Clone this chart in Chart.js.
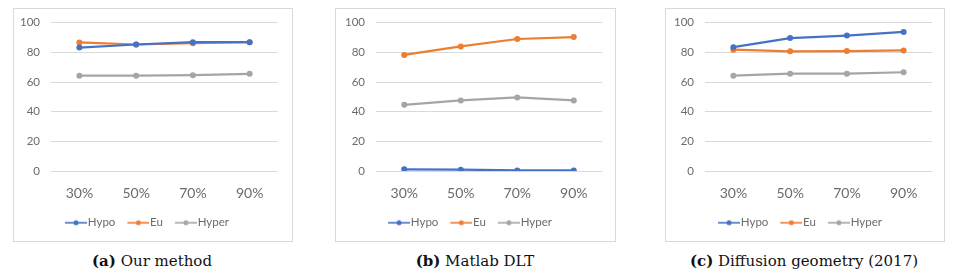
<!DOCTYPE html>
<html>
<head>
<meta charset="utf-8">
<script src="https://cdn.jsdelivr.net/npm/chart.js@4"></script>
<style>
  body { margin: 0; background: #fff; width: 956px; height: 280px; position: relative; overflow: hidden; }
  .panel { position: absolute; top: 8px; height: 234px; box-sizing: border-box; border: 1px solid #d9d9d9; }
  .panel canvas { display: block; }
  .cap { position: absolute; top: 252px; font-family: 'DejaVu Serif', serif; font-size: 15px; color: #111; white-space: nowrap; transform: translateX(-50%); }
  .cap b { font-weight: bold; }
</style>
</head>
<body>
<div class="panel" style="left:13px;width:280px"><canvas id="chartA" width="278" height="232"></canvas></div>
<div class="panel" style="left:335px;width:281px"><canvas id="chartB" width="279" height="232"></canvas></div>
<div class="panel" style="left:665px;width:280px"><canvas id="chartC" width="278" height="232"></canvas></div>
<div class="cap" style="left:152px"><b>(a)</b> Our method</div>
<div class="cap" style="left:475px"><b>(b)</b> Matlab DLT</div>
<div class="cap" style="left:804px"><b>(c)</b> Diffusion geometry (2017)</div>
<script>
// DATA
const categories = ['30%', '50%', '70%', '90%'];
const seriesNames = ['Hypo', 'Eu', 'Hyper'];
const yTickValues = [0, 20, 40, 60, 80, 100];

// (a) Our method
const oursHypo = [83.2, 85.3, 86.9, 86.9];
const oursEu = [86.7, 85.3, 86.2, 86.9];
const oursHyper = [64.3, 64.3, 64.6, 65.5];

// (b) Matlab DLT
const dltHypo = [1.1, 0.9, 0.4, 0.4];
const dltEu = [78.3, 84.0, 89.0, 90.3];
const dltHyper = [44.6, 47.6, 49.6, 47.6];

// (c) Diffusion geometry
const diffHypo = [83.5, 89.6, 91.3, 93.8];
const diffEu = [81.8, 80.7, 80.9, 81.3];
const diffHyper = [64.3, 65.6, 65.6, 66.6];

const colors = ['#4472c4', '#ed7d31', '#a5a5a5'];
const labelColor = '#6b6b6b';
const gridColor = '#d9d9d9';

// legend icon: line with a dot, shifted right so it touches the text
const makeIcon = function (color) {
  const c = document.createElement('canvas');
  c.width = 29;
  c.height = 8;
  const g = c.getContext('2d');
  g.strokeStyle = color;
  g.lineWidth = 1.6;
  g.beginPath();
  g.moveTo(7, 4);
  g.lineTo(29, 4);
  g.stroke();
  g.fillStyle = color;
  g.beginPath();
  g.arc(18, 4, 2.5, 0, Math.PI * 2);
  g.fill();
  return c;
};
const icons = colors.map(makeIcon);

const buildChart = function (id, series, yWidth, rightPad) {
  const ctx = document.getElementById(id).getContext('2d');
  return new Chart(ctx, {
    type: 'line',
    data: {
      labels: categories,
      datasets: series.map(function (values, i) {
        return {
          label: seriesNames[i],
          data: values,
          borderColor: colors[i],
          backgroundColor: colors[i],
          borderWidth: 2.2,
          pointRadius: 3,
          pointBorderWidth: 0,
          tension: 0,
        };
      }),
    },
    options: {
      responsive: false,
      animation: false,
      layout: { padding: { top: 13.7, right: rightPad, bottom: 2.5, left: 0 } },
      plugins: {
        tooltip: { enabled: false },
        legend: {
          position: 'bottom',
          labels: {
            usePointStyle: true,
            pointStyleWidth: 19,
            boxHeight: 8,
            padding: 10,
            color: labelColor,
            font: { family: 'Lato', size: 11.5 },
            generateLabels: function (chart) {
              const items = Chart.defaults.plugins.legend.labels.generateLabels(chart);
              return items.map(function (item, i) {
                return Object.assign(item, { pointStyle: icons[i] });
              });
            },
          },
        },
      },
      scales: {
        x: {
          offset: true,
          grid: { display: false },
          border: { display: false },
          ticks: { color: labelColor, padding: 6, font: { family: 'Lato', size: 14 } },
          afterFit: function (scale) { scale.height = 36; },
        },
        y: {
          min: 0,
          max: 100,
          afterBuildTicks: function (scale) {
            scale.ticks = yTickValues.map(function (v) { return { value: v }; });
          },
          grid: { color: gridColor, drawTicks: false, lineWidth: 1 },
          border: { display: false },
          // small lineHeight keeps the label overflow from pushing the plot top down
          ticks: { color: labelColor, padding: 11, font: { family: 'Lato', size: 11.5, lineHeight: 0.2 } },
          afterFit: function (scale) { scale.width = yWidth; },
        },
      },
    },
  });
};

buildChart('chartA', [oursHypo, oursEu, oursHyper], 37, 14);
buildChart('chartB', [dltHypo, dltEu, dltHyper], 40, 13);
buildChart('chartC', [diffHypo, diffEu, diffHyper], 39, 12);
</script>
</body>
</html>
